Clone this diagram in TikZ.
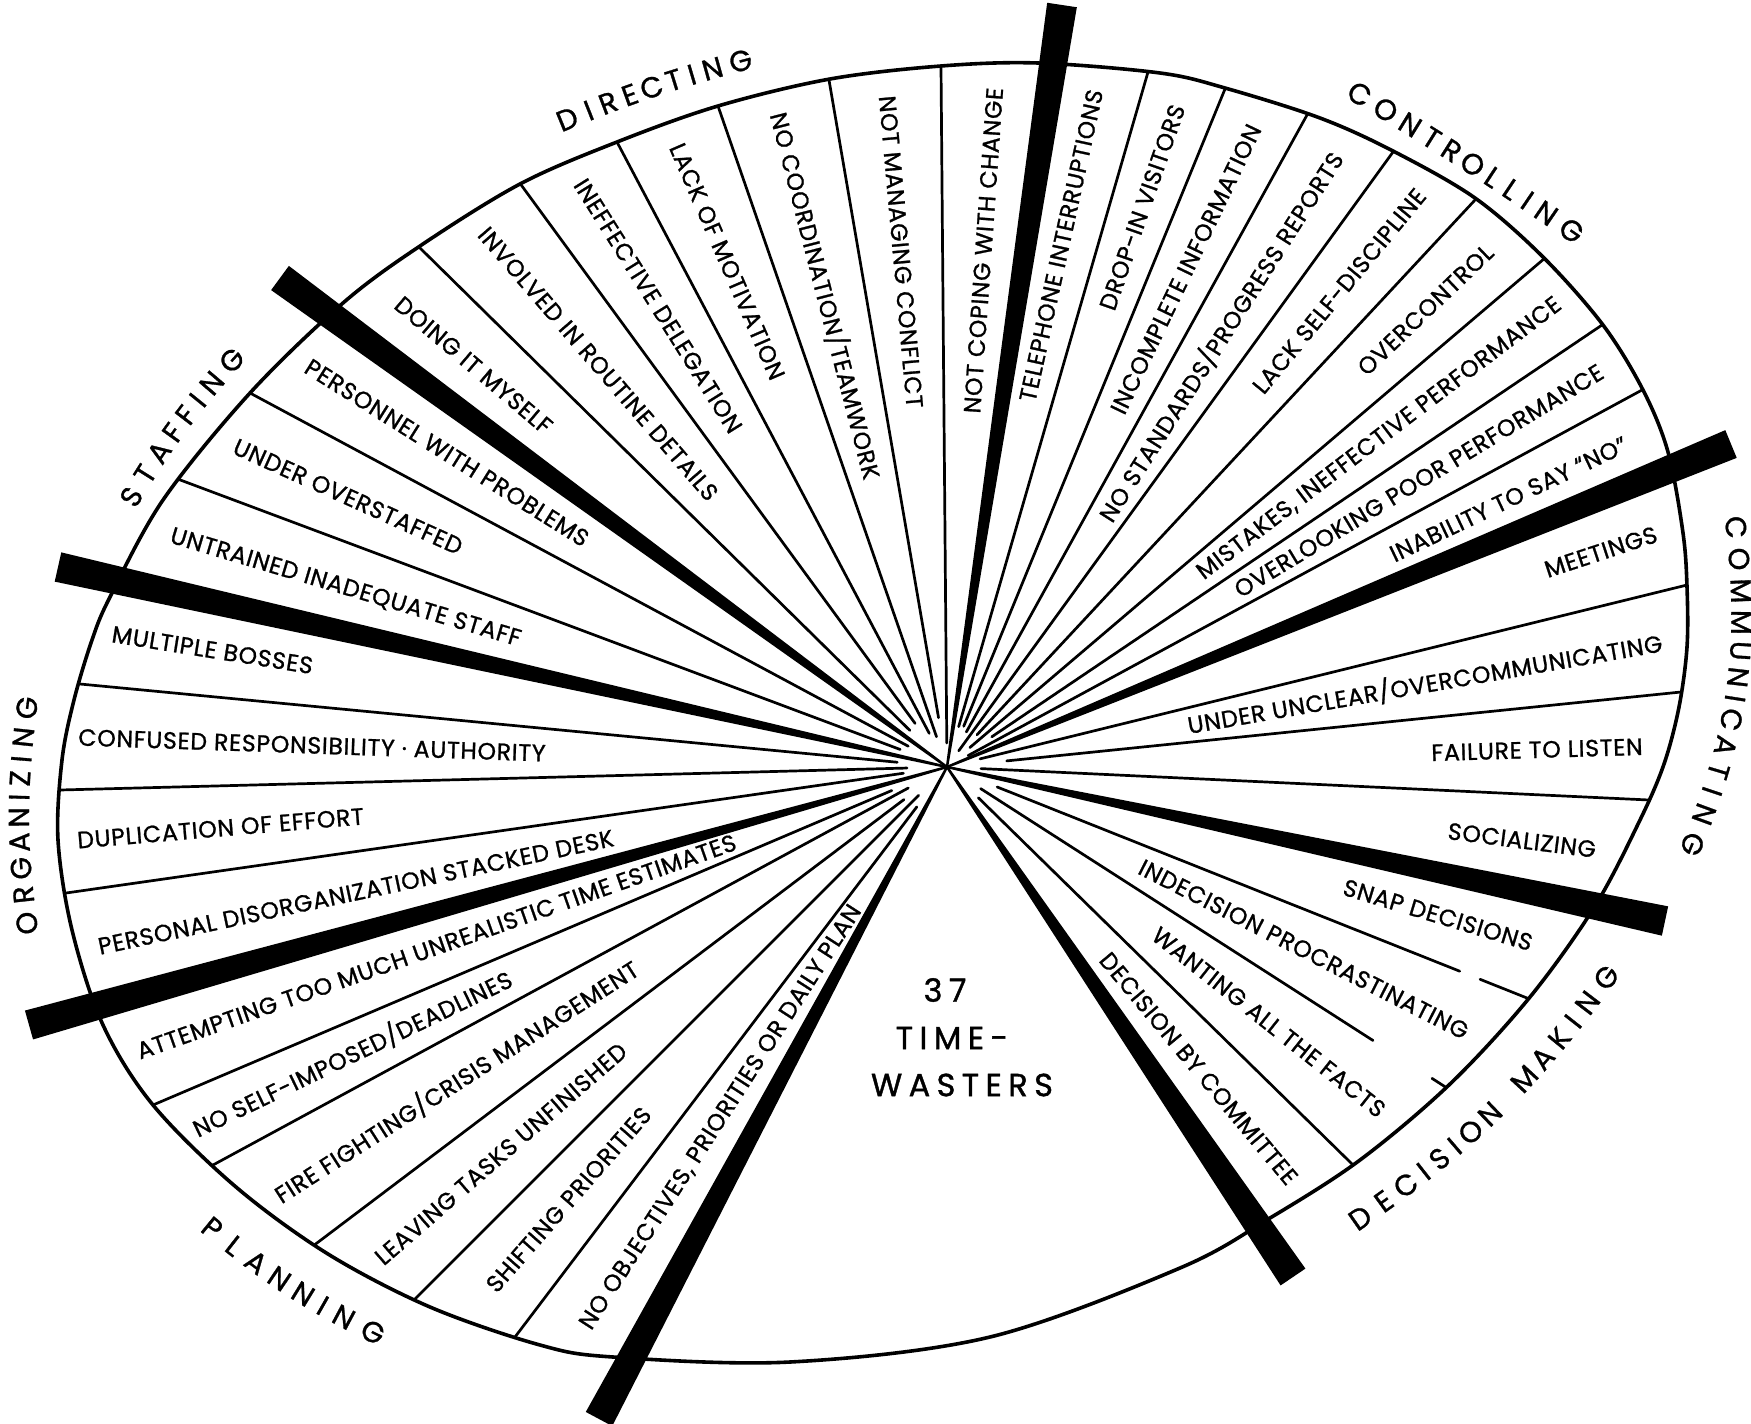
\documentclass[tikz,border=0pt]{standalone}
\usepackage{fontspec}
\setmainfont{Poppins}
\newfontfamily\lblfont[Scale=1.18,LetterSpace=3,FakeBold=1]{Poppins}
\newfontfamily\catfont[Scale=1.45,FakeBold=1]{Poppins}
\newfontfamily\bigfont[Scale=1.6,LetterSpace=20,FakeBold=1.2]{Poppins}
\usetikzlibrary{calc}
\newcommand\wl[5]{%
  \coordinate (#1m) at ($(#2)!0.5!(#3)$);
  \pgfmathanglebetweenpoints{\pgfpointanchor{hub}{center}}{\pgfpointanchor{#1m}{center}}%
  \pgfmathparse{mod(\pgfmathresult+720,360)}%
  \edef\wang{\pgfmathresult}%
  \def\woff{0}\def\wanc{east}%
  \ifdim\wang pt>90pt \ifdim\wang pt<270pt \def\woff{180}\def\wanc{west}\fi\fi
  \node[lbl, rotate=\wang+\woff, anchor=\wanc] (#1) at ($(#1m)!#4pt!(hub)$) {#5};%
}
\newcommand\wbar[1]{%
  \fill[bar] ($(#1)!7.5pt!90:(hub)$) -- ($(#1)!7.5pt!-90:(hub)$) --
    ($(hub)!0.6pt!90:(#1)$) -- ($(hub)!0.6pt!-90:(#1)$) -- cycle;}
\newcommand\catlabel[5]{%
  \xdef\cattotal{0}%
  \foreach \ch/\w in {#5} {\pgfmathsetmacro\cattmp{\cattotal+\w}\xdef\cattotal{\cattmp}}%
  \xdef\catcum{0}%
  \foreach \ch/\w [count=\i] in {#5} {%
    \pgfmathsetmacro\catp{(\catcum+\w/2)/\cattotal}%
    \path (#2) to[#4] node[catl, pos=\catp, sloped, allow upside down] (#1\i) {\ch} (#3);%
    \pgfmathsetmacro\cattmp{\catcum+\w}\xdef\catcum{\cattmp}%
  }%
}
\begin{document}
\begin{tikzpicture}[x=0.5pt,y=-0.5pt,
  divider/.style={line width=1.35pt, line cap=round},
  rim/.style={line width=1.8pt},
  bar/.style={fill=black, draw=none},
  lbl/.style={font=\lblfont, inner sep=0pt},
  big/.style={font=\bigfont, inner sep=0pt},
  catl/.style={font=\catfont, inner sep=0pt}]
\fill[white] (0,0) rectangle (1751,1424);
\useasboundingbox (0,0) rectangle (1751,1424);
\coordinate (hub) at (947,767);
\coordinate (A) at (330,315);
\coordinate (d1) at (420,248);
\coordinate (d2) at (519,182);
\coordinate (d3) at (617,142);
\coordinate (d4) at (718,106);
\coordinate (d5) at (829,80);
\coordinate (d6) at (941,67);
\coordinate (B) at (1052,64);
\coordinate (c1) at (1148,72);
\coordinate (c2) at (1225,89);
\coordinate (c3) at (1307,115);
\coordinate (c4) at (1393,152);
\coordinate (c5) at (1475,200);
\coordinate (c6) at (1545,258);
\coordinate (c7) at (1602,325);
\coordinate (c8) at (1642,390);
\coordinate (C) at (1672,467);
\coordinate (m1) at (1687,585);
\coordinate (m2) at (1681,692);
\coordinate (m3) at (1649,800);
\coordinate (D) at (1595,906);
\coordinate (e1) at (1527,998);
\coordinate (e2) at (1447,1088);
\coordinate (e3) at (1350,1162);
\coordinate (E) at (1257,1226);
\coordinate (F) at (630,1359);
\coordinate (p1) at (515,1337);
\coordinate (p2) at (413,1301);
\coordinate (p3) at (313,1246);
\coordinate (p4) at (213,1165);
\coordinate (p5) at (153,1105);
\coordinate (G) at (95,1008);
\coordinate (o1) at (66,893);
\coordinate (o2) at (60,790);
\coordinate (o3) at (80,684);
\coordinate (H) at (120,580);
\coordinate (s1) at (175,478);
\coordinate (s2) at (250,393);
% bar outer ends
\coordinate (Ao) at (280,278);
\coordinate (Bo) at (1062,5);
\coordinate (Co) at (1731,444);
\coordinate (Do) at (1665,921);
\coordinate (Eo) at (1293,1277);
\coordinate (Fo) at (599,1419);
\coordinate (Go) at (29,1025);
\coordinate (Ho) at (58,567);
% dividers, clipped to the rim
\begin{scope}
\clip plot[smooth cycle, tension=0.55] coordinates {(343,303) (420,246) (520,184) (617,142) (718,106) (830,79) (941,66) (1038,63) (1160,73) (1225,88) (1320,118) (1393,151) (1475,198) (1543,257) (1603,325) (1643,390) (1668,452) (1683,533) (1687,587) (1687,647) (1679,707) (1664,764) (1640,820) (1595,906) (1530,997) (1450,1084) (1360,1160) (1270,1218) (1180,1268) (990,1337) (790,1362) (613,1357) (540,1345) (430,1307) (328,1254) (236,1187) (153,1105) (103,1025) (72,930) (58,840) (62,760) (74,700) (92,640) (110,597) (163,500) (250,393)};
\foreach \b/\r in {d1/26,d2/27,d3/19,d4/16,d5/25,d6/12,
  c1/21,c2/22,c3/20,c4/10,c5/22,c6/15,c7/27,c8/12,
  m1/17,m2/30,m3/17,e3/22,
  p1/25,p2/20,p3/27,p4/22,p5/30,o1/22,o2/20,o3/25,s1/25,s2/22}
  \draw[divider] ($(hub)!\r pt!(\b)$) -- ($(hub)!1.15!(\b)$);
\draw[divider] ($(hub)!27pt!(e1)$) -- ($(hub)!0.884!(e1)$);
\draw[divider] ($(hub)!0.919!(e1)$) -- ($(hub)!1.15!(e1)$);
\draw[divider] ($(hub)!20pt!(e2)$) -- ($(hub)!0.852!(e2)$);
\draw[divider] ($(hub)!0.97!(e2)$) -- ($(hub)!1.15!(e2)$);
\end{scope}
% rim
\draw[rim] plot[smooth cycle, tension=0.55] coordinates {(343,303) (420,246) (520,184) (617,142) (718,106) (830,79) (941,66) (1038,63) (1160,73) (1225,88) (1320,118) (1393,151) (1475,198) (1543,257) (1603,325) (1643,390) (1668,452) (1683,533) (1687,587) (1687,647) (1679,707) (1664,764) (1640,820) (1595,906) (1530,997) (1450,1084) (1360,1160) (1270,1218) (1180,1268) (990,1337) (790,1362) (613,1357) (540,1345) (430,1307) (328,1254) (236,1187) (153,1105) (103,1025) (72,930) (58,840) (62,760) (74,700) (92,640) (110,597) (163,500) (250,393)};
% bars
\wbar{Ao}\wbar{Bo}\wbar{Co}\wbar{Do}\wbar{Eo}\wbar{Fo}\wbar{Go}\wbar{Ho}
% labels
\wl{l1}{A}{d1}{15}{DOING IT MYSELF}
\wl{l2}{d1}{d2}{10}{INVOLVED IN ROUTINE DETAILS}
\wl{l3}{d2}{d3}{11}{INEFFECTIVE DELEGATION}
\wl{l4}{d3}{d4}{11}{LACK OF MOTIVATION}
\wl{l5}{d4}{d5}{10}{NO COORDINATION/TEAMWORK}
\wl{l6}{d5}{d6}{11}{NOT MANAGING CONFLICT}
\wl{l7}{d6}{B}{11}{NOT COPING WITH CHANGE}
\wl{l8}{B}{c1}{11}{TELEPHONE INTERRUPTIONS}
\wl{l9}{c1}{c2}{13}{DROP-IN VISITORS}
\wl{l10}{c2}{c3}{13}{INCOMPLETE INFORMATION}
\wl{l11}{c3}{c4}{12}{NO STANDARDS/PROGRESS REPORTS}
\wl{l12}{c4}{c5}{10}{LACK SELF-DISCIPLINE}
\wl{l13}{c5}{c6}{14}{OVERCONTROL}
\wl{l14}{c6}{c7}{9}{MISTAKES, INEFFECTIVE PERFORMANCE}
\wl{l15}{c7}{c8}{12}{OVERLOOKING POOR PERFORMANCE}
\wl{l16}{c8}{C}{17}{INABILITY TO SAY “NO”}
\wl{l17}{C}{m1}{12}{MEETINGS}
\wl{l18}{m1}{m2}{11}{UNDER UNCLEAR/OVERCOMMUNICATING}
\wl{l19}{m2}{m3}{11}{FAILURE TO LISTEN}
\wl{l20}{m3}{D}{13}{SOCIALIZING}
\wl{l21}{D}{e1}{15}{SNAP DECISIONS}
\wl{l22}{e1}{e2}{11}{INDECISION PROCRASTINATING}
\wl{l23}{e2}{e3}{10}{WANTING ALL THE FACTS}
\wl{l24}{e3}{E}{8}{DECISION BY COMMITTEE}
\wl{l25}{F}{p1}{12}{NO OBJECTIVES, PRIORITIES OR DAILY PLAN}
\wl{l26}{p1}{p2}{20}{SHIFTING PRIORITIES}
\wl{l27}{p2}{p3}{10}{LEAVING TASKS UNFINISHED}
\wl{l28}{p3}{p4}{8}{FIRE FIGHTING/CRISIS MANAGEMENT}
\wl{l29}{p4}{p5}{6}{NO SELF-IMPOSED/DEADLINES}
\wl{l30}{p5}{G}{7}{ATTEMPTING TOO MUCH UNREALISTIC TIME ESTIMATES}
\wl{l31}{G}{o1}{9}{PERSONAL DISORGANIZATION STACKED DESK}
\wl{l32}{o1}{o2}{7}{DUPLICATION OF EFFORT}
\wl{l33}{o2}{o3}{4}{CONFUSED RESPONSIBILITY · AUTHORITY}
\wl{l34}{o3}{H}{6}{MULTIPLE BOSSES}
\wl{l35}{H}{s1}{12}{UNTRAINED INADEQUATE STAFF}
\wl{l36}{s1}{s2}{12}{UNDER OVERSTAFFED}
\wl{l37}{s2}{A}{10}{PERSONNEL WITH PROBLEMS}
% categories
\coordinate (k1a) at (553,125); \coordinate (k1b) at (756,57);
\coordinate (k2a) at (1346,86); \coordinate (k2b) at (1585,240);
\coordinate (k3a) at (1734,511); \coordinate (k3b) at (1686,860);
\coordinate (k4a) at (1347,1227); \coordinate (k4b) at (1616,964);
\coordinate (k5a) at (200,1218); \coordinate (k5b) at (389,1340);
\coordinate (k6a) at (29,939); \coordinate (k6b) at (29,692);
\coordinate (k7a) at (124,509); \coordinate (k7b) at (243,348);
\catlabel{kD}{k1a}{k1b}{bend left=4}{D/1.19,I/0.72,R/1.11,E/1.03,C/1.18,T/1.05,I/0.72,N/1.2,G/1.23}
\catlabel{kC}{k2a}{k2b}{bend left=2}{C/1.18,O/1.23,N/1.2,T/1.05,R/1.11,O/1.23,L/1.0,L/1.0,I/0.72,N/1.2,G/1.23}
\catlabel{kM}{k3a}{k3b}{bend left=15}{C/1.18,O/1.23,M/1.32,M/1.32,U/1.15,N/1.2,I/0.72,C/1.18,A/1.17,T/1.05,I/0.72,N/1.2,G/1.23}
\catlabel{kX}{k4a}{k4b}{bend right=10}{D/1.19,E/1.03,C/1.18,I/0.72,S/1.05,I/0.72,O/1.23,N/1.2,{}/1.0,M/1.32,A/1.17,K/1.11,I/0.72,N/1.2,G/1.23}
\catlabel{kP}{k5a}{k5b}{bend right=7}{P/1.08,L/1.0,A/1.17,N/1.2,N/1.2,I/0.72,N/1.2,G/1.23}
\catlabel{kO}{k6a}{k6b}{bend left=8}{O/1.23,R/1.11,G/1.23,A/1.17,N/1.2,I/0.72,Z/1.05,I/0.72,N/1.2,G/1.23}
\catlabel{kS}{k7a}{k7b}{bend left=6}{S/1.05,T/1.05,A/1.17,F/1.0,F/1.0,I/0.72,N/1.2,G/1.23}
% centre
\node[big] (n37) at (945,990) {37};
\node[big] (ntime) at (952,1038) {TIME-};
\node[big] (nwaste) at (962,1085) {WASTERS};
\end{tikzpicture}
\end{document}
